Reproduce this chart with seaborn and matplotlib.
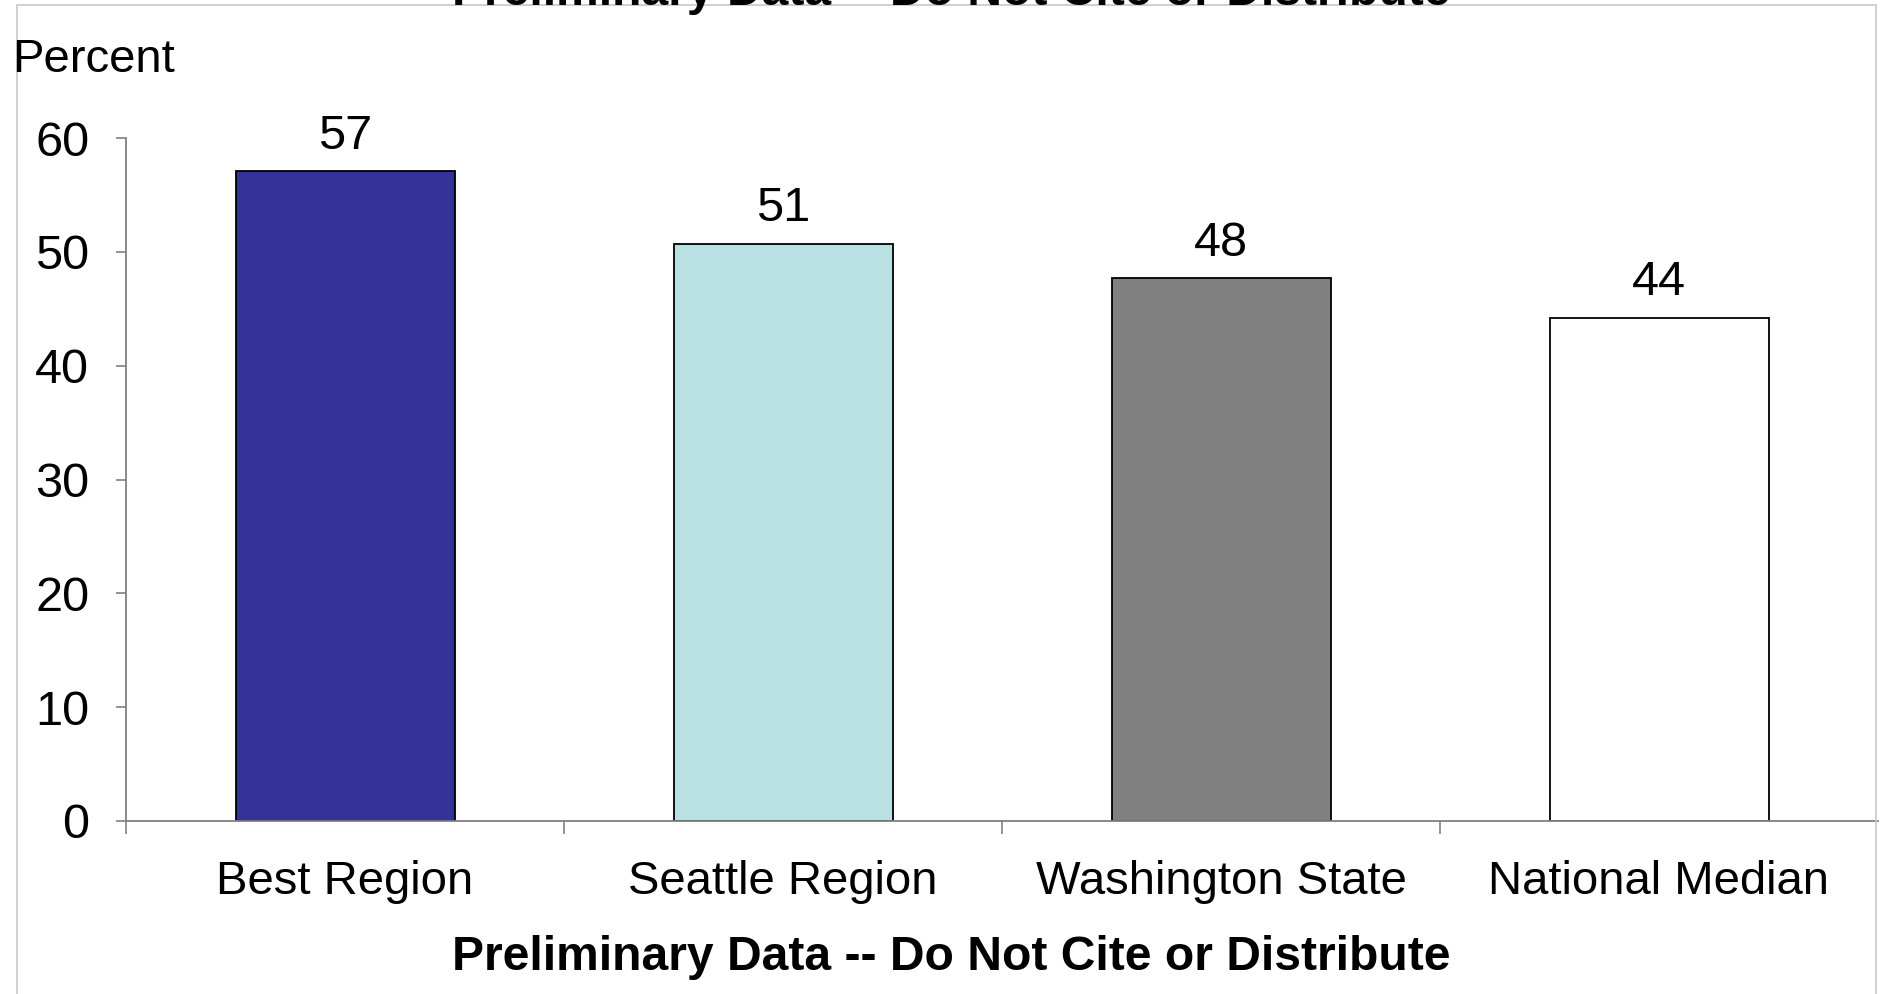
import matplotlib
matplotlib.use("Agg")
import matplotlib.pyplot as plt
import matplotlib.patches as patches
import seaborn as sns
from matplotlib.ticker import FixedLocator

categories = ["Best Region", "Seattle Region", "Washington State", "National Median"]
values = [57.1, 50.7, 47.7, 44.2]
bar_colors = ["#333399", "#B9E0E3", "#808080", "#FFFFFF"]
y_ticks = [0, 10, 20, 30, 40, 50, 60]
note = "Preliminary Data -- Do Not Cite or Distribute"

sns.set_style("white")
plt.rcParams["font.family"] = ["Liberation Sans", "DejaVu Sans"]
plt.rcParams["text.color"] = "black"
plt.rcParams["xtick.labelcolor"] = "black"
plt.rcParams["ytick.labelcolor"] = "black"

fig = plt.figure(figsize=(18.81, 9.94), dpi=100)
ax = fig.add_axes([126 / 1881, 173 / 994, (1878 - 126) / 1881, (821 - 138) / 994])

sns.barplot(x=categories, y=values, hue=categories, palette=bar_colors, legend=False,
            width=0.5, saturation=1, edgecolor="black", linewidth=1.3, ax=ax)

for c in ax.containers:
  ax.bar_label(c, fmt="{:.0f}", fontsize=35, padding=9, color="black")

ax.set_xlim(-0.5, 3.5)
ax.set_ylim(0, 60)
ax.set_yticks(y_ticks)
ax.set_xlabel("")
ax.set_ylabel("")

for side in ["top", "right"]:
  ax.spines[side].set_visible(False)
for side in ["left", "bottom"]:
  ax.spines[side].set_color("#808080")
  ax.spines[side].set_linewidth(1.3)

ax.tick_params(axis="y", direction="out", length=7.5, width=1.2, color="#808080",
               labelsize=35, pad=19, left=True, labelcolor="black")
ax.tick_params(axis="x", which="major", length=0, labelsize=34, pad=28, labelcolor="black")
ax.xaxis.set_minor_locator(FixedLocator([-0.5, 0.5, 1.5, 2.5]))
ax.tick_params(axis="x", which="minor", direction="out", length=9, width=1.2,
               color="#808080", bottom=True)

fig.text(12 / 1881, 1 - 72 / 994, "Percent", fontsize=34, ha="left", va="baseline")
fig.text(0.5055, 1 - 970 / 994, note, fontsize=34.6, fontweight="bold", ha="center", va="baseline")
fig.text(0.5055, 1 - 5 / 994, note, fontsize=34.6, fontweight="bold", ha="center", va="baseline")

frame = patches.Rectangle((17 / 1881, -0.01), (1876 - 17) / 1881, 1 - 5 / 994 + 0.01,
                          transform=fig.transFigure, fill=False, edgecolor="#C8C8C8",
                          linewidth=1.2, zorder=0)
fig.patches.append(frame)

fig.savefig("out.png", dpi=100)
